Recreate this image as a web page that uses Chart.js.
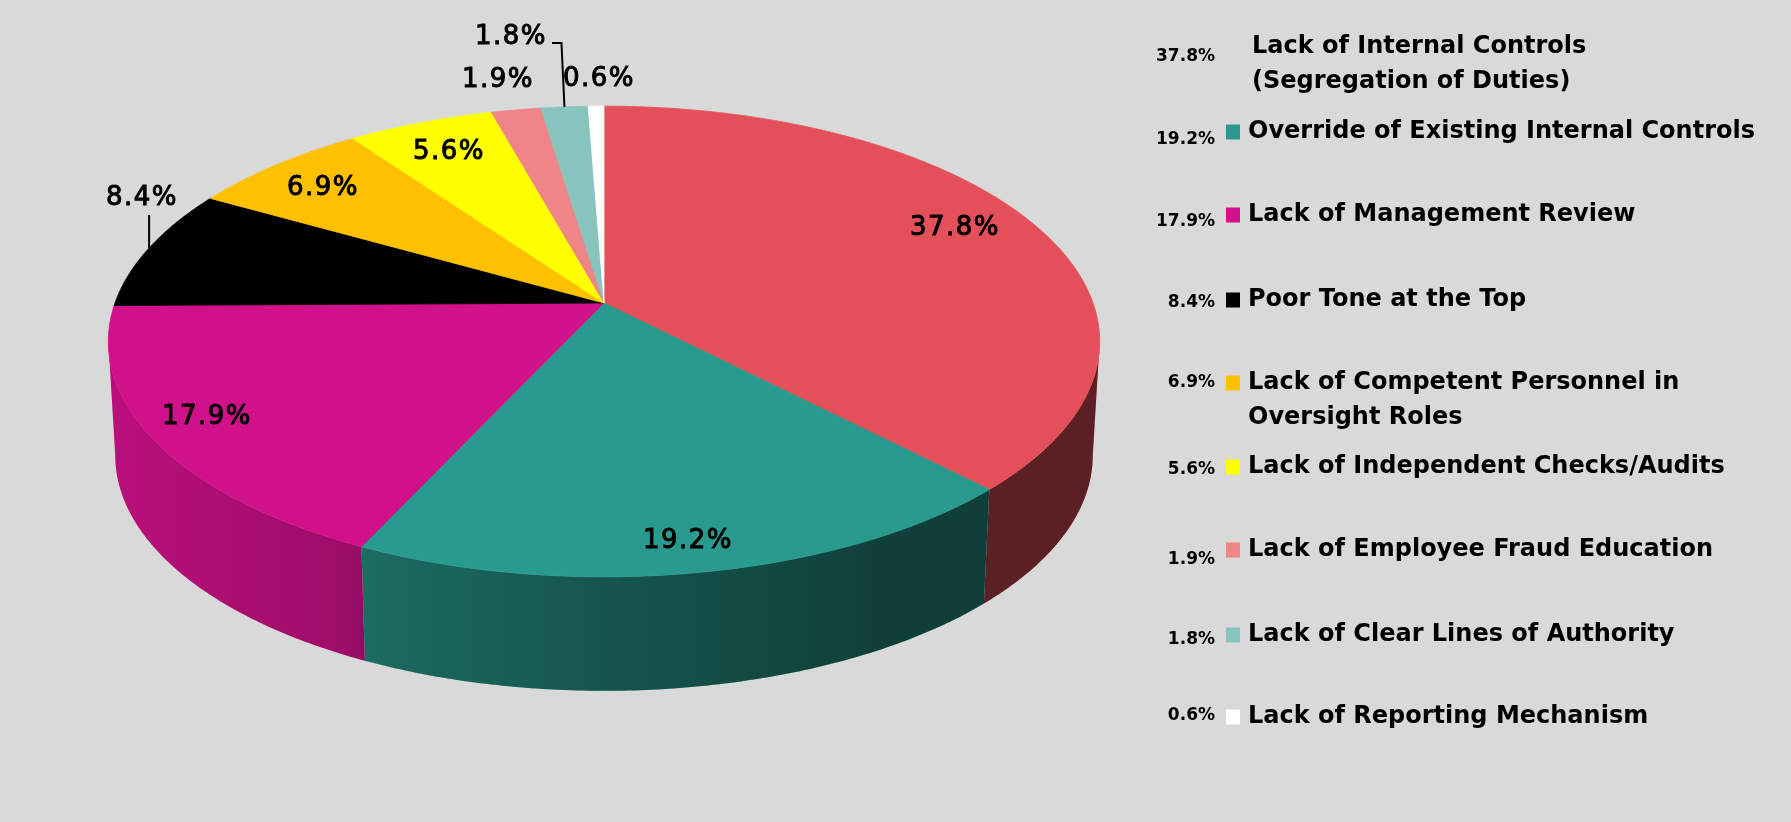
<!DOCTYPE html>
<html>
<head>
<meta charset="utf-8">
<title>Control weaknesses</title>
<script src="https://cdn.jsdelivr.net/npm/chart.js@4.4.1/dist/chart.umd.min.js"></script>
<style>
    html, body { margin: 0; padding: 0; background: #d9d9d9; }
    #wrap { width: 1791px; height: 822px; }
</style>
</head>
<body>
<div id="wrap"><canvas id="chart" width="1791" height="822"></canvas></div>
<script>
// --- Data ---
const CATEGORIES = [
    'Lack of Internal Controls\n(Segregation of Duties)',
    'Override of Existing Internal Controls',
    'Lack of Management Review',
    'Poor Tone at the Top',
    'Lack of Competent Personnel in\nOversight Roles',
    'Lack of Independent Checks/Audits',
    'Lack of Employee Fraud Education',
    'Lack of Clear Lines of Authority',
    'Lack of Reporting Mechanism',
];
const SHARES = [37.8, 19.2, 17.9, 8.4, 6.9, 5.6, 1.9, 1.8, 0.6];
const COLORS = ['#e4505a', '#289a8e', '#d0118a', '#000000', '#ffc000', '#ffff00', '#ef8587', '#88c4be', '#ffffff'];

// --- Layout ---
// Tilted pie: Chart.js lays out the arcs (centre, radius, angles); the plugin
// below projects them onto a tilted disc with a little perspective.
const PIE = { radius: 489, tilt: 0.4684, persp: 0.1635, depth: 114, bottomShrink: 0.986 };
// Value label anchors, relative to the pie centre.
const LABEL_OFFSETS = [
    [351, -75], [84, 238], [-397, 114], [-462, -105], [-281, -115],
    [-155, -151], [-106, -223], [-93, -266], [-5, -224],
];
const LEGEND = { valueRight: 1215, swatchX: 1226, swatchW: 14, swatchH: 15, textX: 1248, lineGap: 35 };
const LEGEND_ROW_Y = [47, 132, 215, 300, 383, 467, 550, 635, 717];
const LEGEND_VALUE_Y = [57, 140, 222, 303, 383, 470, 560, 640, 716];

const LABEL_FONT = "26px 'DejaVu Sans', sans-serif";
const LEGEND_FONT = "bold 24px 'DejaVu Sans', sans-serif";
const VALUE_FONT = "bold 17px 'DejaVu Sans', sans-serif";

const fmt = (v) => v.toFixed(1) + '%';

// proj maps an angle on the pie rim to screen space; drop > 0 gives the
// lower edge of the side wall.
function proj(arc, ang, drop) {
    const ux = Math.cos(ang), uy = Math.sin(ang);
    const w = 1 - PIE.persp * uy;
    const k = drop ? PIE.bottomShrink : 1;
    return [
        arc.x + arc.outerRadius * ux / w * k,
        arc.y + arc.outerRadius * PIE.tilt * uy / w + drop,
    ];
}

function rim(arc, from, to, drop) {
    const n = Math.max(2, Math.ceil(Math.abs(to - from) / 0.01));
    const pts = [];
    for (let i = 0; i <= n; i++) pts.push(proj(arc, from + (to - from) * i / n, drop));
    return pts;
}

function tracePath(ctx, pts) {
    ctx.beginPath();
    pts.forEach((p, i) => (i ? ctx.lineTo(p[0], p[1]) : ctx.moveTo(p[0], p[1])));
    ctx.closePath();
}

function drawValueLabels(chart) {
    const { ctx } = chart;
    const arcs = chart.getDatasetMeta(0).data;
    ctx.save();
    ctx.font = LABEL_FONT;
    ctx.letterSpacing = '1.5px';
    ctx.fillStyle = '#000';
    ctx.strokeStyle = '#000';
    ctx.textAlign = 'center';
    ctx.textBaseline = 'middle';
    arcs.forEach((arc, i) => {
        const [ox, oy] = LABEL_OFFSETS[i];
        const x = arc.x + ox, y = arc.y + oy;
        const txt = fmt(SHARES[i]);
        ctx.lineWidth = 1;
        ctx.fillText(txt, x, y);
        ctx.strokeText(txt, x, y);
        const mid = (arc.startAngle + arc.endAngle) / 2;
        const [rx, ry] = proj(arc, mid, 0);
        ctx.lineWidth = 2;
        if (i === 3) {
            // straight leader up from the rim
            ctx.beginPath();
            ctx.moveTo(rx, ry);
            ctx.lineTo(rx, y + 17);
            ctx.stroke();
        } else if (i === 7) {
            // elbow leader: up, then left to the label
            const w = ctx.measureText(txt).width;
            ctx.beginPath();
            ctx.moveTo(rx, ry);
            ctx.lineTo(rx - 3, y + 6);
            ctx.lineTo(x + w / 2 + 5, y + 6);
            ctx.stroke();
        }
    });
    ctx.restore();
}

function drawLegend(chart) {
    const { ctx } = chart;
    ctx.save();
    ctx.textBaseline = 'middle';
    CATEGORIES.forEach((name, i) => {
        const y = LEGEND_ROW_Y[i];
        ctx.font = VALUE_FONT;
        ctx.textAlign = 'right';
        ctx.fillStyle = '#000';
        ctx.fillText(fmt(SHARES[i]), LEGEND.valueRight, LEGEND_VALUE_Y[i]);
        // the first entry carries no swatch
        if (i > 0) {
            ctx.fillStyle = COLORS[i];
            ctx.fillRect(LEGEND.swatchX, y - LEGEND.swatchH / 2, LEGEND.swatchW, LEGEND.swatchH);
        }
        ctx.font = LEGEND_FONT;
        ctx.textAlign = 'left';
        ctx.fillStyle = '#000';
        const tx = LEGEND.textX + (i === 0 ? 4 : 0);
        name.split('\n').forEach((line, j) => {
            ctx.fillText(line, tx, y + j * LEGEND.lineGap);
        });
    });
    ctx.restore();
}

const pie3d = {
    id: 'pie3d',
    beforeDatasetsDraw(chart) {
        const { ctx } = chart;
        const arcs = chart.getDatasetMeta(0).data;
        if (!arcs.length) return;
        const c = arcs[0];
        const a0 = Math.asin(PIE.persp), a1 = Math.PI - a0;

        // darker towards the right-hand side of the wall
        const half = c.outerRadius / Math.sqrt(1 - PIE.persp * PIE.persp);
        const shade = ctx.createLinearGradient(c.x - half, 0, c.x + half, 0);
        shade.addColorStop(0, 'rgba(0,0,0,0.10)');
        shade.addColorStop(0.24, 'rgba(0,0,0,0.25)');
        shade.addColorStop(0.265, 'rgba(0,0,0,0.31)');
        shade.addColorStop(0.5, 'rgba(0,0,0,0.45)');
        shade.addColorStop(0.8, 'rgba(0,0,0,0.60)');
        shade.addColorStop(1, 'rgba(0,0,0,0.60)');

        ctx.save();
        // side walls (front half only)
        for (const arc of arcs) {
            const s = Math.max(arc.startAngle, a0), e = Math.min(arc.endAngle, a1);
            if (e <= s) continue;
            tracePath(ctx, [...rim(arc, s, e, 0), ...rim(arc, e, s, PIE.depth)]);
            ctx.fillStyle = arc.options.backgroundColor;
            ctx.fill();
            ctx.fillStyle = shade;
            ctx.fill();
        }
        // top faces
        for (const arc of arcs) {
            tracePath(ctx, [[arc.x, arc.y], ...rim(arc, arc.startAngle, arc.endAngle, 0)]);
            ctx.fillStyle = arc.options.backgroundColor;
            ctx.strokeStyle = arc.options.backgroundColor;
            ctx.lineWidth = 0.8;
            ctx.fill();
            ctx.stroke();
        }
        ctx.restore();
        // the arcs are already drawn, skip the flat ones
        return false;
    },
    afterDraw(chart) {
        drawValueLabels(chart);
        drawLegend(chart);
    },
};

new Chart(document.getElementById('chart'), {
    type: 'pie',
    data: {
        labels: CATEGORIES,
        datasets: [{
            data: SHARES,
            backgroundColor: COLORS,
            borderWidth: 0,
            radius: PIE.radius,
        }],
    },
    options: {
        responsive: false,
        devicePixelRatio: 1,
        animation: false,
        layout: { padding: { left: 0, top: 0, right: 583, bottom: 216 } },
        plugins: {
            legend: { display: false },
            tooltip: { enabled: false },
        },
    },
    plugins: [pie3d],
});
</script>
</body>
</html>
